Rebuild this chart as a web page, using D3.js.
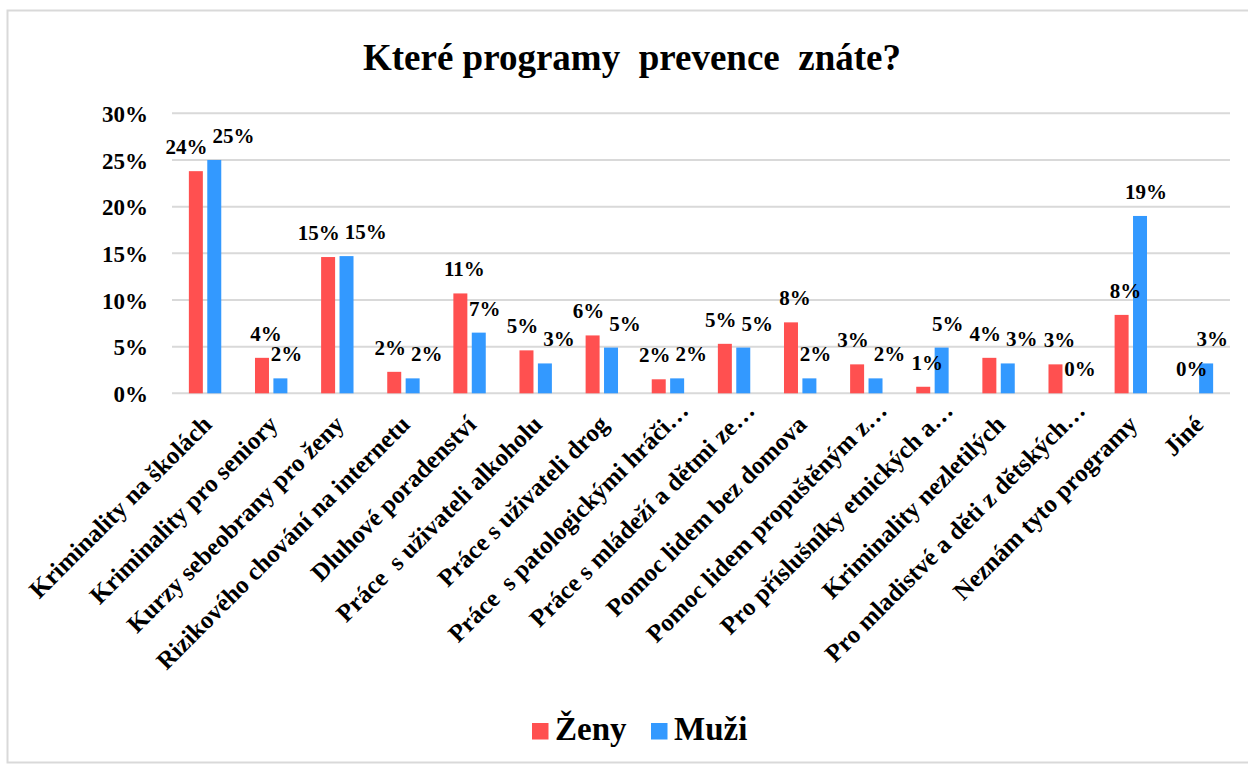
<!DOCTYPE html>
<html>
<head>
<meta charset="utf-8">
<script src="https://cdn.jsdelivr.net/npm/d3@7"></script>
<style>
  body { margin: 0; background: #fff; }
</style>
</head>
<body>
<div id="chart"></div>
<script>
// data (percent)
var categories = [
  "Kriminality na školách",
  "Kriminality pro seniory",
  "Kurzy sebeobrany pro ženy",
  "Rizikového chování na internetu",
  "Dluhové poradenství",
  "Práce  s uživateli alkoholu",
  "Práce s uživateli drog",
  "Práce  s patologickými hráči…",
  "Práce s mládeží a dětmi ze…",
  "Pomoc lidem bez domova",
  "Pomoc lidem propuštěným z…",
  "Pro příslušníky etnických a…",
  "Kriminality nezletilých",
  "Pro mladistvé a děti z dětských…",
  "Neznám tyto programy",
  "Jiné"
];
var zeny = [23.8, 3.8, 14.6, 2.3, 10.7, 4.6, 6.2, 1.5, 5.3, 7.6, 3.1, 0.7, 3.8, 3.1, 8.4, 0];
var muzi = [25.0, 1.6, 14.7, 1.6, 6.5, 3.2, 4.9, 1.6, 4.9, 1.6, 1.6, 4.9, 3.2, 0, 19.0, 3.2];
var seriesNames = ["Ženy", "Muži"];
var yTicks = [0, 5, 10, 15, 20, 25, 30];

var colors = ["#ff5050", "#3399ff"];
var font = "'Liberation Serif'";
var width = 1248, height = 766;

var svg = d3.select("#chart").append("svg")
  .attr("width", width)
  .attr("height", height);

// chart border
svg.append("rect")
  .attr("x", 7.5).attr("y", 10.5)
  .attr("width", 1260).attr("height", 752)
  .attr("fill", "#fff")
  .attr("stroke", "#d9d9d9")
  .attr("stroke-width", 2);

// title
svg.append("text")
  .attr("x", 632).attr("y", 70)
  .attr("text-anchor", "middle")
  .style("font-family", font)
  .style("font-weight", "bold")
  .style("font-size", "37px")
  .style("white-space", "pre")
  .text("Které programy  prevence  znáte?");

var x = d3.scaleBand()
  .domain(categories)
  .range([172, 1230]);

var x1 = d3.scaleBand()
  .domain([0, 1])
  .range([x.bandwidth() / 2 - 16.2, x.bandwidth() / 2 + 16.2])
  .paddingInner(0.24);

var y = d3.scaleLinear()
  .domain([0, 30])
  .range([393.3, 113.3]);

// gridlines
svg.append("g")
  .selectAll("line")
  .data(yTicks)
  .join("line")
  .attr("x1", 172).attr("x2", 1230)
  .attr("y1", d => y(d)).attr("y2", d => y(d))
  .attr("stroke", "#d9d9d9")
  .attr("stroke-width", 2);

// y axis
var yAxis = svg.append("g")
  .attr("transform", "translate(148,0)")
  .call(d3.axisLeft(y).tickValues(yTicks).tickFormat(d => d + "%").tickSize(0).tickPadding(0));
yAxis.select(".domain").remove();
yAxis.attr("font-family", null).attr("font-size", null);
yAxis.selectAll("text")
  .style("font-family", font)
  .style("font-weight", "bold")
  .style("font-size", "23px")
  .attr("fill", "#000")
  .attr("dy", "0.35em");

// bars
var rows = categories.map((c, i) => ({ cat: c, vals: [zeny[i], muzi[i]] }));

var groups = svg.append("g")
  .selectAll("g")
  .data(rows)
  .join("g")
  .attr("transform", d => "translate(" + x(d.cat) + ",0)");

groups.selectAll("rect")
  .data(d => d.vals.map((v, s) => ({ v: v, s: s })))
  .join("rect")
  .attr("x", d => x1(d.s))
  .attr("width", x1.bandwidth())
  .attr("y", d => y(d.v))
  .attr("height", d => y(0) - y(d.v))
  .attr("fill", d => colors[d.s]);

// data labels, pushed apart when the pair collides
groups.each(function(d) {
  var g = d3.select(this);
  var labels = d.vals.map(function(v, s) {
    return g.append("text")
      .attr("text-anchor", "middle")
      .attr("y", y(v) - 17)
      .style("font-family", font)
      .style("font-weight", "bold")
      .style("font-size", "21px")
      .text(Math.round(v) + "%");
  });
  var w0 = labels[0].node().getComputedTextLength();
  var w1 = labels[1].node().getComputedTextLength();
  var c0 = x1(0) + x1.bandwidth() / 2 + 4;
  var c1 = x1(1) + x1.bandwidth() / 2 + 6;
  var dy = Math.abs(y(d.vals[0]) - y(d.vals[1]));
  var need = (w0 + w1) / 2 + 5;
  if (dy < 18 && c1 - c0 < need) {
    var shift = (need - (c1 - c0)) / 2;
    c0 -= shift;
    c1 += shift;
  }
  labels[0].attr("x", c0);
  labels[1].attr("x", c1);
});

// x axis labels (truncated ones sit a little further up the slope)
svg.append("g")
  .selectAll("text")
  .data(categories)
  .join("text")
  .attr("transform", function(d) {
    var cut = d.slice(-1) === "…" ? 14 : 0;
    return "translate(" + (x(d) + x.bandwidth() / 2 + 8 + cut) + "," + (426 - cut) + ") rotate(-45)";
  })
  .attr("text-anchor", "end")
  .style("font-family", font)
  .style("font-weight", "bold")
  .style("font-size", "25px")
  .style("white-space", "pre")
  .text(d => d);

// legend
var legend = svg.append("g")
  .attr("transform", "translate(532,723)");
var legX = [0, 119];
seriesNames.forEach(function(name, i) {
  legend.append("rect")
    .attr("x", legX[i]).attr("y", 0)
    .attr("width", 16.5).attr("height", 16.5)
    .attr("fill", colors[i]);
  legend.append("text")
    .attr("x", legX[i] + 23).attr("y", 17)
    .style("font-family", font)
    .style("font-weight", "bold")
    .style("font-size", "33px")
    .text(name);
});
</script>
</body>
</html>
